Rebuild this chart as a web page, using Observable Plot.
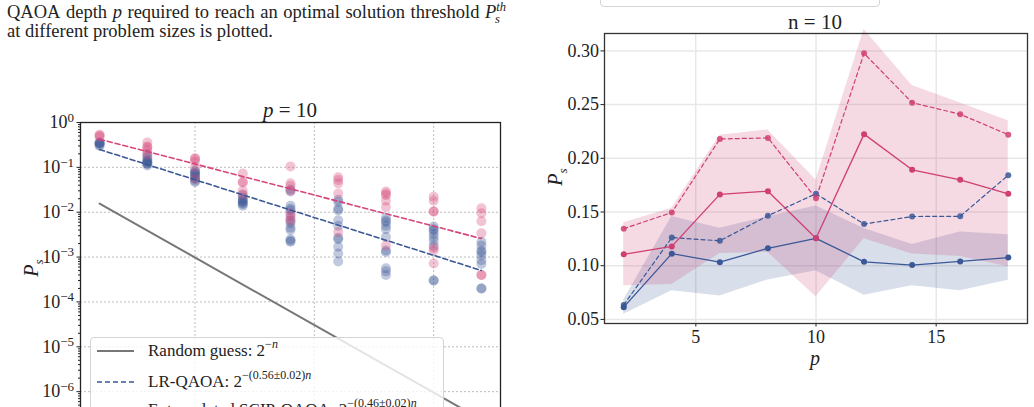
<!DOCTYPE html>
<html>
<head>
<meta charset="utf-8">
<script src="https://cdn.jsdelivr.net/npm/d3@7"></script>
<script src="https://cdn.jsdelivr.net/npm/@observablehq/plot@0.6"></script>
<style>
  html, body { margin: 0; padding: 0; width: 1034px; height: 407px; overflow: hidden; background: #fff; }
  body { position: relative; font-family: "Liberation Serif", serif; color: #222; }
  .abs { position: absolute; white-space: nowrap; }
  .center { transform: translate(-50%, -50%); }
  .words { display: flex; justify-content: space-between; }
  sub, sup { line-height: 0; }
  .cap sup, .cap sub { font-size: 12.5px; font-style: italic; }
  .legend { position: absolute; background: rgba(255,255,255,0.8); border: 1px solid #d4d4d4; border-radius: 4px; }
  .legend .row { position: absolute; left: 6px; height: 22px; display: flex; align-items: center; font-size: 17px; }
  .legend svg { width: 37px; height: 10px; margin-right: 14px; flex: none; }
  .legend sup { font-size: 12px; position: relative; top: -1px; }
  #left, #right { position: absolute; top: 0; }
  #left { left: 0; }
  #right { left: 540px; }
</style>
</head>
<body>

<div class="abs cap words" style="left:7px;top:2px;width:498px;font-size:18.5px;line-height:20px;">
  <span>QAOA</span><span>depth</span><span><i>p</i></span><span>required</span><span>to</span><span>reach</span><span>an</span><span>optimal</span><span>solution</span><span>threshold</span><span><i>P</i><sup>th</sup><sub style="margin-left:-11px;">s</sub><span style="display:inline-block;width:5px;"></span></span>
</div>
<div class="abs" style="left:7px;top:21px;font-size:18.5px;line-height:20px;">at different problem sizes is plotted.</div>

<div id="left"></div>
<div id="right"></div>

<!-- titles and axis labels -->
<div class="abs center" style="left:290px;top:110px;font-size:21px;"><i>p</i> = 10</div>
<div class="abs center" style="left:31px;top:268px;font-size:20px;transform:translate(-50%,-50%) rotate(-90deg);"><i>P</i><sub style="font-size:13px;"><i>s</i></sub></div>

<div class="abs center" style="left:815px;top:22px;font-size:21px;">n = 10</div>
<div class="abs center" style="left:555px;top:177px;font-size:20px;transform:translate(-50%,-50%) rotate(-90deg);"><i>P</i><sub style="font-size:13px;"><i>s</i></sub></div>
<div class="abs center" style="left:815px;top:358px;font-size:20px;"><i>p</i></div>

<!-- legend box of the right panel (its entries sit above this view) -->
<div class="legend" style="left:600px;top:-30px;width:278px;height:35px;"></div>

<!-- legend of the left panel -->
<div class="legend" style="left:90px;top:337px;width:352px;height:110px;">
  <div class="row" style="top:2px;"><svg><line x1="0" y1="5" x2="37" y2="5" stroke="#777" stroke-width="2"/></svg><span>Random guess: 2<sup>−<i>n</i></sup></span></div>
  <div class="row" style="top:33px;"><svg><line x1="0" y1="5" x2="37" y2="5" stroke="#3a5795" stroke-width="1.6" stroke-dasharray="5,3"/></svg><span>LR-QAOA: 2<sup>−(0.56±0.02)<i>n</i></sup></span></div>
  <div class="row" style="top:61px;"><svg><line x1="0" y1="5" x2="37" y2="5" stroke="#d6447a" stroke-width="1.6" stroke-dasharray="5,3" stroke-opacity="0.6"/></svg><span>Extrapolated SCIP-QAOA: 2<sup>−(0.46±0.02)<i>n</i></sup></span></div>
</div>

<script>
// ---------- Left panel: success probability vs problem size at p = 10 ----------
const sizes = [6, 8, 10, 12, 14, 16, 18, 20, 22];

// LR-QAOA instance results, one list per problem size
const lrSamples = [
  [0.36, 0.35, 0.34, 0.32, 0.30, 0.34],
  [0.20, 0.17, 0.14, 0.13, 0.13, 0.12, 0.12, 0.15, 0.11],
  [0.085, 0.078, 0.075, 0.072, 0.066, 0.06, 0.056, 0.05, 0.047],
  [0.024, 0.021, 0.019, 0.018, 0.017, 0.016, 0.015, 0.014],
  [0.032, 0.029, 0.014, 0.012, 0.011, 0.0085, 0.0065, 0.0056, 0.0045, 0.004, 0.0025, 0.0023, 0.0022],
  [0.019, 0.017, 0.012, 0.011, 0.0066, 0.005, 0.0027, 0.0025, 0.0017, 0.0012, 0.0008],
  [0.0075, 0.0065, 0.006, 0.005, 0.0042, 0.0028, 0.0014, 0.0013, 0.00056, 0.00048, 0.0004],
  [0.0048, 0.0042, 0.0039, 0.0033, 0.0028, 0.0023, 0.0018, 0.0003, 0.0003],
  [0.0022, 0.0018, 0.0014, 0.0013, 0.0011, 0.00085, 0.0007, 0.0002, 0.0002]
];

// Extrapolated SCIP-QAOA instance results, one list per problem size
const scipSamples = [
  [0.53, 0.51, 0.48],
  [0.36, 0.29, 0.28, 0.24, 0.19],
  [0.16, 0.155, 0.135, 0.10, 0.056],
  [0.073, 0.047, 0.046, 0.03, 0.025],
  [0.105, 0.044, 0.039, 0.03, 0.0075, 0.0065, 0.0095],
  [0.06, 0.052, 0.044, 0.026, 0.0036],
  [0.029, 0.026, 0.024, 0.018, 0.013, 0.0018],
  [0.022, 0.018, 0.0105, 0.0103, 0.0016, 0.0014, 0.00072],
  [0.0122, 0.0095, 0.0063, 0.0034, 0.0004, 0.0004]
];

// Exponential fits P = A * 2^(-k n)
const lrExponent = 0.56, lrPrefactor = 2.57;
const scipExponent = 0.46, scipPrefactor = 2.88;
const fitRange = [6, 22];
const guessRange = [6, 22.8];

const decadeTicks = [0, -1, -2, -3, -4, -5, -6, -7];
const sizeGrid = [10, 15, 20];

const pink = "#d6447a", blue = "#3a5795";

const lrPoints = sizes.flatMap((n, i) => lrSamples[i].map(v => ({n, v})));
const scipPoints = sizes.flatMap((n, i) => scipSamples[i].map(v => ({n, v})));
const lrFit = fitRange.map(n => ({n, v: lrPrefactor * Math.pow(2, -lrExponent * n)}));
const scipFit = fitRange.map(n => ({n, v: scipPrefactor * Math.pow(2, -scipExponent * n)}));
const randomGuess = guessRange.map(n => ({n, v: Math.pow(2, -n)}));

const majorTicks = decadeTicks.map(e => Math.pow(10, e));
const minorTicks = decadeTicks.slice(1).flatMap(e => d3.range(2, 10).map(k => k * Math.pow(10, e)));

const left = Plot.plot({
  width: 540, height: 480,
  marginLeft: 80, marginRight: 40, marginTop: 122, marginBottom: 44,
  x: {domain: [5.2, 22.8], axis: null},
  y: {type: "log", domain: [1e-7, 1], axis: null},
  style: {fontFamily: "Liberation Serif, serif", fontSize: "18px", color: "#222", background: "transparent", overflow: "visible"},
  marks: [
    Plot.gridX(sizeGrid, {stroke: "#bdbdbd", strokeOpacity: 1, strokeDasharray: "2,2"}),
    Plot.gridY(majorTicks, {stroke: "#bdbdbd", strokeOpacity: 1, strokeDasharray: "2,2"}),
    Plot.axisY(minorTicks, {tickSize: 2, tickFormat: () => "", stroke: "#222", label: null}),
    Plot.axisY(majorTicks, {tickSize: 3.5, tickPadding: 3, stroke: "#222", label: null,
      tickFormat: d => "10^" + Math.round(Math.log10(d))}),
    Plot.line(randomGuess, {x: "n", y: "v", stroke: "#777", strokeWidth: 2}),
    Plot.dot(lrPoints, {x: "n", y: "v", r: 5, fill: blue, fillOpacity: 0.32, stroke: "none"}),
    Plot.dot(scipPoints, {x: "n", y: "v", r: 5, fill: pink, fillOpacity: 0.32, stroke: "none"}),
    Plot.line(lrFit, {x: "n", y: "v", stroke: blue, strokeWidth: 1.6, strokeDasharray: "5,3"}),
    Plot.line(scipFit, {x: "n", y: "v", stroke: pink, strokeWidth: 1.6, strokeDasharray: "5,3"}),
    Plot.frame({stroke: "#222", strokeWidth: 1.3})
  ]
});

// render tick labels as 10 with a raised exponent
left.querySelectorAll('g[aria-label="y-axis tick label"] text').forEach(t => {
  const parts = t.textContent.split("^");
  if (parts.length !== 2) return;
  const exp = parts[1].replace("-", "\u2212");
  t.textContent = "";
  const base = document.createElementNS("http://www.w3.org/2000/svg", "tspan");
  base.textContent = parts[0];
  const sup = document.createElementNS("http://www.w3.org/2000/svg", "tspan");
  sup.textContent = exp;
  sup.setAttribute("dy", "-0.5em");
  sup.setAttribute("font-size", "13px");
  t.appendChild(base);
  t.appendChild(sup);
});
document.getElementById("left").appendChild(left);

// ---------- Right panel: success probability vs depth at n = 10 ----------
const depths = [2, 4, 6, 8, 10, 12, 14, 16, 18];
const lrMean  = [0.0614, 0.1112, 0.1033, 0.1162, 0.1255, 0.1036, 0.1006, 0.1040, 0.1076];
const lrStd   = [0.0067, 0.0346, 0.0316, 0.0294, 0.0302, 0.0310, 0.0192, 0.0274, 0.0212];
const lrBest  = [0.0635, 0.1262, 0.1232, 0.1465, 0.1670, 0.1388, 0.1458, 0.1460, 0.1843];
const scipMean = [0.1106, 0.1180, 0.1664, 0.1694, 0.1255, 0.2225, 0.1893, 0.1800, 0.1670];
const scipStd  = [0.0293, 0.0354, 0.0550, 0.0570, 0.0543, 0.0975, 0.0785, 0.0715, 0.0680];
const scipBest = [0.1345, 0.1495, 0.2180, 0.2190, 0.1627, 0.2977, 0.2518, 0.2410, 0.2220];

const lrPink = "#cf3f72", lrBlue = "#3a5898";
const rows = (mean, std) => depths.map((p, i) => ({p, mean: mean[i], lo: mean[i] - std[i], hi: mean[i] + std[i]}));
const lrRows = rows(lrMean, lrStd);
const scipRows = rows(scipMean, scipStd);
const lrBestRows = depths.map((p, i) => ({p, v: lrBest[i]}));
const scipBestRows = depths.map((p, i) => ({p, v: scipBest[i]}));

const pTicks = [5, 10, 15];
const psTicks = [0.05, 0.10, 0.15, 0.20, 0.25, 0.30];

const right = Plot.plot({
  width: 494, height: 384,
  marginLeft: 64, marginRight: 7, marginTop: 33, marginBottom: 61,
  x: {domain: [1.2, 18.8], axis: null},
  y: {domain: [0.0462, 0.3162], axis: null},
  style: {fontFamily: "Liberation Serif, serif", fontSize: "18px", color: "#222", background: "transparent", overflow: "visible"},
  marks: [
    Plot.gridX(pTicks, {stroke: "#dcdcdc", strokeOpacity: 1}),
    Plot.gridY(psTicks, {stroke: "#e8e8e8", strokeOpacity: 1, strokeWidth: 1.5}),
    Plot.areaY(lrRows, {x: "p", y1: "lo", y2: "hi", fill: lrBlue, fillOpacity: 0.2}),
    Plot.areaY(scipRows, {x: "p", y1: "lo", y2: "hi", fill: lrPink, fillOpacity: 0.2}),
    Plot.line(lrBestRows, {x: "p", y: "v", stroke: lrBlue, strokeWidth: 1.2, strokeDasharray: "4,3"}),
    Plot.dot(lrBestRows, {x: "p", y: "v", r: 3, fill: lrBlue, fillOpacity: 0.85}),
    Plot.line(lrRows, {x: "p", y: "mean", stroke: lrBlue, strokeWidth: 1.3}),
    Plot.dot(lrRows, {x: "p", y: "mean", r: 3, fill: lrBlue}),
    Plot.line(scipBestRows, {x: "p", y: "v", stroke: lrPink, strokeWidth: 1.2, strokeDasharray: "4,3"}),
    Plot.dot(scipBestRows, {x: "p", y: "v", r: 3, fill: lrPink, fillOpacity: 0.85}),
    Plot.line(scipRows, {x: "p", y: "mean", stroke: lrPink, strokeWidth: 1.3}),
    Plot.dot(scipRows, {x: "p", y: "mean", r: 3, fill: lrPink}),
    Plot.axisX(pTicks, {tickSize: 3.5, tickPadding: 3.5, stroke: "#222", label: null}),
    Plot.axisY(psTicks, {tickSize: 3.5, tickPadding: 2, stroke: "#222", label: null, tickFormat: d3.format(".2f")}),
    Plot.frame({stroke: "#333", strokeWidth: 1.3})
  ]
});
document.getElementById("right").appendChild(right);
</script>
</body>
</html>
